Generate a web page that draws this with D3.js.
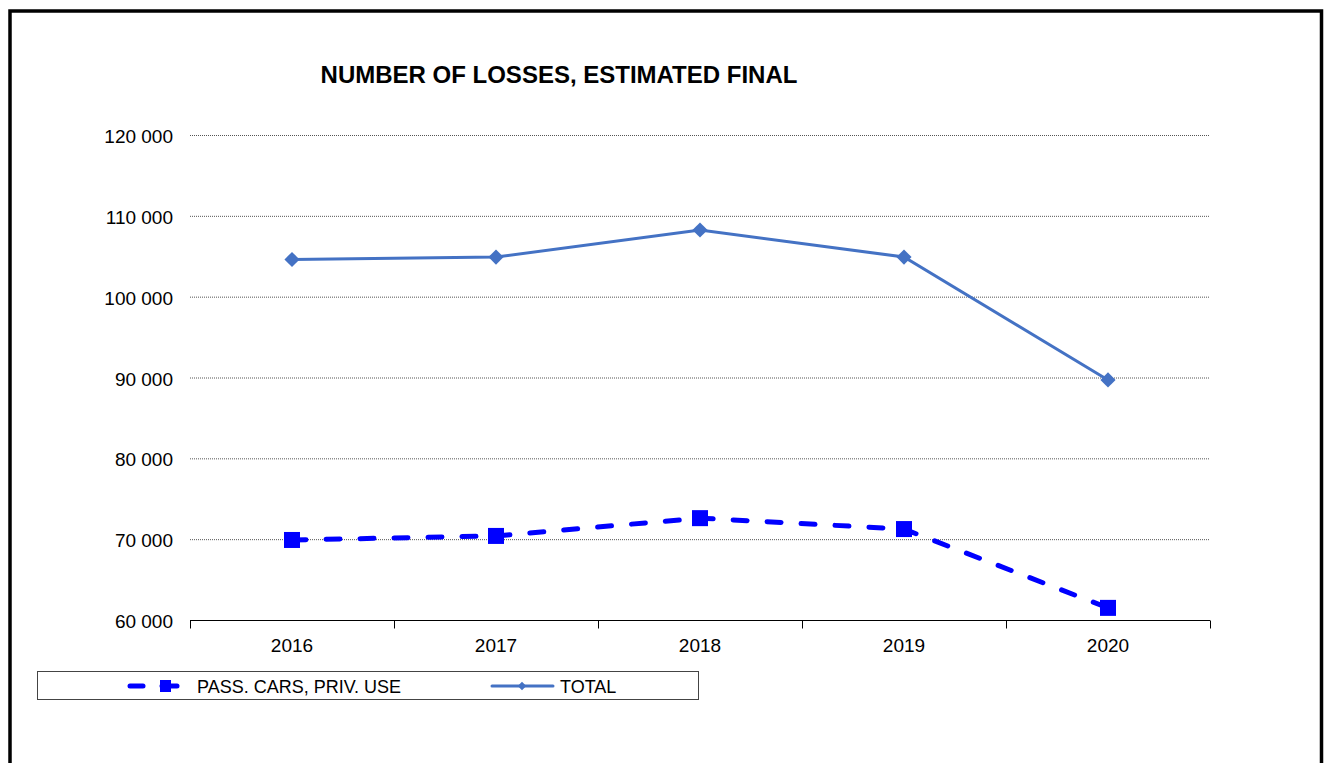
<!DOCTYPE html>
<html>
<head>
<meta charset="utf-8">
<script src="https://cdn.jsdelivr.net/npm/d3@7"></script>
<style>
  body { margin: 0; background: #fff; }
  svg { display: block; font-family: "Liberation Sans", Arial, sans-serif; }
</style>
</head>
<body>
<div id="chart"></div>
<script>
const years = ["2016", "2017", "2018", "2019", "2020"];
const passCars = [69900, 70400, 72600, 71250, 61500];
const total = [104600, 104900, 108250, 104900, 89700];
const yTicks = [60000, 70000, 80000, 90000, 100000, 110000, 120000];
const seriesNames = ["PASS. CARS, PRIV. USE", "TOTAL"];

const W = 1328, H = 763;
const margin = { top: 135, left: 190, right: 118, bottom: 143 };

const svg = d3.select("#chart").append("svg")
    .attr("width", W)
    .attr("height", H);

// outer frame
svg.append("rect")
    .attr("x", 10).attr("y", 11)
    .attr("width", 1311.5).attr("height", 780)
    .attr("fill", "none")
    .attr("stroke", "#000")
    .attr("stroke-width", 3.5);

svg.append("text")
    .attr("x", 559).attr("y", 83)
    .attr("text-anchor", "middle")
    .style("font-size", "24px")
    .style("font-weight", "bold")
    .text("NUMBER OF LOSSES, ESTIMATED FINAL");

const x = d3.scaleBand().domain(years).range([margin.left, W - margin.right]);
const y = d3.scaleLinear().domain([60000, 120000]).range([H - margin.bottom, margin.top]);

const fmt = d => d3.format(",")(d).replace(/,/g, " ");

// gridlines
svg.append("g")
    .selectAll("line")
    .data(yTicks.slice(1))
    .enter().append("line")
    .attr("x1", margin.left).attr("x2", W - margin.right)
    .attr("y1", d => y(d) + 0.5).attr("y2", d => y(d) + 0.5)
    .attr("stroke", "#555")
    .attr("stroke-width", 1)
    .attr("stroke-dasharray", "1,1");

// y labels
svg.append("g")
    .selectAll("text")
    .data(yTicks)
    .enter().append("text")
    .attr("x", 173)
    .attr("y", d => y(d) + 8)
    .attr("text-anchor", "end")
    .style("font-size", "19px")
    .text(fmt);

// x axis
const xAxis = svg.append("g")
    .attr("transform", `translate(0,${y(60000) + 0.5})`);
xAxis.append("line")
    .attr("x1", margin.left).attr("x2", W - margin.right)
    .attr("stroke", "#000");
const bounds = years.map(d => x(d)).concat([x(years[years.length - 1]) + x.bandwidth()]);
xAxis.selectAll("line.tick")
    .data(bounds)
    .enter().append("line")
    .attr("class", "tick")
    .attr("x1", d => Math.round(d) + 0.5).attr("x2", d => Math.round(d) + 0.5)
    .attr("y1", 0).attr("y2", 8)
    .attr("stroke", "#000");
xAxis.selectAll("text")
    .data(years)
    .enter().append("text")
    .attr("x", d => x(d) + x.bandwidth() / 2)
    .attr("y", 31)
    .attr("text-anchor", "middle")
    .style("font-size", "19px")
    .text(d => d);

const cx = (d, i) => x(years[i]) + x.bandwidth() / 2;
const line = d3.line().x(cx).y(d => y(d));

// pass cars - dashed blue with squares
svg.append("path")
    .datum(passCars)
    .attr("d", line)
    .attr("fill", "none")
    .attr("stroke", "#0000ff")
    .attr("stroke-width", 5)
    .attr("stroke-linecap", "round")
    .attr("stroke-dasharray", "14,20");
svg.selectAll("rect.pass")
    .data(passCars)
    .enter().append("rect")
    .attr("class", "pass")
    .attr("x", (d, i) => cx(d, i) - 8)
    .attr("y", d => y(d) - 8)
    .attr("width", 16).attr("height", 16)
    .attr("fill", "#0000ff");

// total - solid with diamonds
svg.append("path")
    .datum(total)
    .attr("d", line)
    .attr("fill", "none")
    .attr("stroke", "#4472c4")
    .attr("stroke-width", 3);
const diamond = d3.symbol().type(d3.symbolSquare).size(115);
svg.selectAll("path.tot")
    .data(total)
    .enter().append("path")
    .attr("class", "tot")
    .attr("d", diamond)
    .attr("transform", (d, i) => `translate(${cx(d, i)},${y(d)}) rotate(45)`)
    .attr("fill", "#4472c4");

// legend
const lg = svg.append("g");
lg.append("rect")
    .attr("x", 37.5).attr("y", 671.5)
    .attr("width", 661).attr("height", 28)
    .attr("fill", "#fff")
    .attr("stroke", "#444");
lg.append("line")
    .attr("x1", 130).attr("x2", 143).attr("y1", 686).attr("y2", 686)
    .attr("stroke", "#0000ff").attr("stroke-width", 5)
    .attr("stroke-linecap", "round");
lg.append("line")
    .attr("x1", 162).attr("x2", 177).attr("y1", 686).attr("y2", 686)
    .attr("stroke", "#0000ff").attr("stroke-width", 5)
    .attr("stroke-linecap", "round");
lg.append("rect")
    .attr("x", 160).attr("y", 680).attr("width", 11).attr("height", 12)
    .attr("fill", "#0000ff");
lg.append("text")
    .attr("x", 197).attr("y", 693)
    .style("font-size", "18px")
    .text(seriesNames[0]);
lg.append("line")
    .attr("x1", 492).attr("x2", 553).attr("y1", 686).attr("y2", 686)
    .attr("stroke", "#4472c4").attr("stroke-width", 3)
    .attr("stroke-linecap", "round");
lg.append("path")
    .attr("d", d3.symbol().type(d3.symbolSquare).size(36))
    .attr("transform", "translate(522,686) rotate(45)")
    .attr("fill", "#4472c4");
lg.append("text")
    .attr("x", 560).attr("y", 693)
    .style("font-size", "18px")
    .text(seriesNames[1]);
</script>
</body>
</html>
